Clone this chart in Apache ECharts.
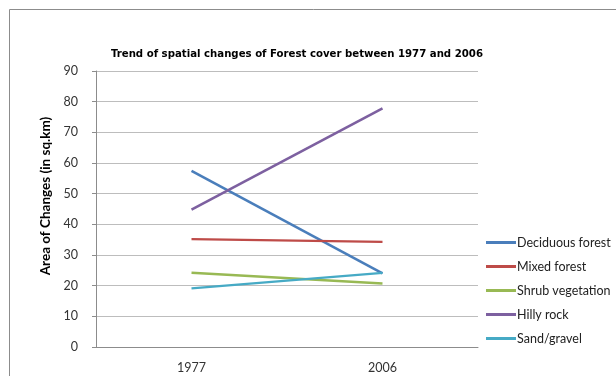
<!DOCTYPE html>
<html>
<head>
<meta charset="utf-8">
<script src="https://cdn.jsdelivr.net/npm/echarts@6/dist/echarts.min.js"></script>
<style>
  html, body { margin: 0; padding: 0; background: #fff; }
  #chart { width: 616px; height: 376px; }
</style>
</head>
<body>
<div id="chart"></div>
<script>
// Years on the category axis
const years = ['1977', '2006'];

// Area of change per land-cover class (sq.km)
const deciduousForest = [57.4, 24.0];
const mixedForest = [35.2, 34.3];
const shrubVegetation = [24.2, 20.7];
const hillyRock = [44.8, 77.8];
const sandGravel = [19.1, 24.2];

const seriesNames = ['Deciduous forest', 'Mixed forest', 'Shrub vegetation', 'Hilly rock', 'Sand/gravel'];
const seriesValues = [deciduousForest, mixedForest, shrubVegetation, hillyRock, sandGravel];
const seriesColors = ['#4A7EBB', '#BE4B48', '#98B954', '#7D60A0', '#46AAC5'];
const seriesWidths = [2.6, 2.2, 2.6, 2.6, 2.2];

const chart = echarts.init(document.getElementById('chart'), null, { renderer: 'canvas' });

chart.setOption({
  animation: false,
  backgroundColor: '#ffffff',
  title: {
    text: 'Trend of spatial changes of Forest cover between 1977 and 2006',
    left: 292,
    textAlign: 'center',
    top: 44,
    textStyle: {
      fontFamily: 'DejaVu Sans Condensed',
      fontWeight: 'bold',
      fontSize: 11.3,
      color: '#000'
    }
  },
  graphic: [{
    type: 'rect',
    silent: true,
    shape: { x: 9.5, y: 9.5, width: 700, height: 500 },
    style: { fill: 'none', stroke: '#8c8c8c', lineWidth: 1 }
  }],
  grid: { left: 96, right: 138, top: 71, bottom: 29 },
  legend: {
    orient: 'vertical',
    left: 481,
    top: 231,
    itemGap: 11,
    itemWidth: 30,
    itemHeight: 14,
    data: seriesNames.map((n, i) => ({
      name: n,
      icon: 'path://M0,0 L30,0 L30,3 L0,3 Z',
      itemStyle: { color: seriesColors[i] }
    })),
    textStyle: { fontFamily: 'Lato', fontSize: 12.5, color: '#222', padding: [0, 0, 0, -4] }
  },
  xAxis: {
    type: 'category',
    data: years,
    boundaryGap: true,
    axisLine: { lineStyle: { color: '#8c8c8c', width: 1 } },
    axisTick: { show: false },
    axisLabel: { fontFamily: 'Lato', fontSize: 12.5, color: '#333', margin: 14 },
    splitLine: { show: false }
  },
  yAxis: {
    type: 'value',
    min: 0,
    max: 90,
    interval: 10,
    name: 'Area of Changes (in sq.km)',
    nameLocation: 'middle',
    nameGap: 37,
    nameTextStyle: {
      fontFamily: 'Lato', fontWeight: 'bold', fontSize: 13.5, color: '#000',
      padding: [0, 0, 0, 26]
    },
    axisLine: { show: true, lineStyle: { color: '#8c8c8c', width: 1 } },
    axisTick: { show: true, inside: false, length: 4, lineStyle: { color: '#8c8c8c' } },
    axisLabel: { fontFamily: 'Lato', fontSize: 12.5, color: '#333', margin: 18 },
    splitLine: { show: true, lineStyle: { color: '#bdbdbd', width: 1 } }
  },
  series: seriesNames.map((name, i) => ({
    name: name,
    type: 'line',
    data: seriesValues[i],
    symbol: 'none',
    lineStyle: { color: seriesColors[i], width: seriesWidths[i] },
    itemStyle: { color: seriesColors[i] }
  }))
});
</script>
</body>
</html>
